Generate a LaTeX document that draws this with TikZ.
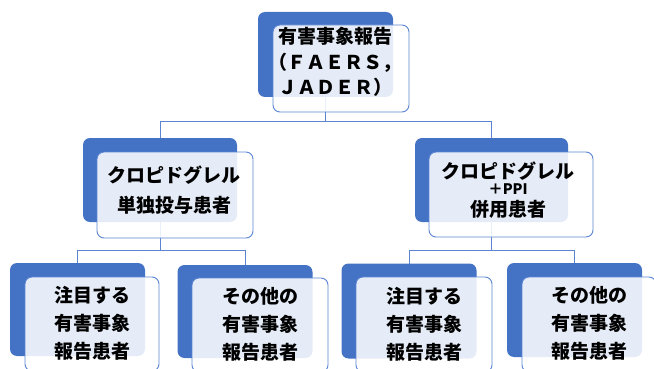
\documentclass[tikz,border=0pt]{standalone}
\usepackage{fontspec}
\newfontfamily\jp{Noto Sans CJK JP}
\usetikzlibrary{backgrounds}
\definecolor{myblue}{HTML}{4472C4}
\definecolor{lineblue}{HTML}{5A84D2}
\begin{document}
\begin{tikzpicture}[x=1pt,y=-1pt,
  back/.style={fill=myblue, rounded corners=7pt, inner sep=0pt, minimum width=#1},
  back/.default=135pt,
  front/.style={draw=lineblue, line width=0.9pt, fill=white, fill opacity=0.87,
    rounded corners=7pt, inner sep=0pt},
  lbl/.style={align=center, inner sep=0pt, text=black,
    font=\jp\bfseries\fontsize{19}{28}\selectfont},
  conn/.style={draw=lineblue, line width=1pt}]
\useasboundingbox (0,0) rectangle (654,369);
% back boxes
\node[back=135pt, minimum height=85pt] (topb) at (325.5,54.5) {};
\node[back=154pt, minimum height=84pt] (l2Lb) at (160,180) {};
\node[back=153pt, minimum height=84pt] (l2Rb) at (491.5,180) {};
\node[back=135pt, minimum height=93pt] (b1) at (77.5,309.5) {};
\node[back=135pt, minimum height=93pt] (b2) at (245,311.5) {};
\node[back=135pt, minimum height=95pt] (b3) at (409,311) {};
\node[back=135pt, minimum height=94pt] (b4) at (574.5,310) {};
% connectors
\coordinate (bus1) at (0,122);
\coordinate (bus2) at (0,250);
\begin{pgfonlayer}{background}
\draw[conn] (topb.center) -- (topb.center |- bus1) -| (l2Lb.center);
\draw[conn] (topb.center |- bus1) -| (l2Rb.center);
\draw[conn] (l2Lb.center) -- (l2Lb.center |- bus2) -| (b1.center);
\draw[conn] (l2Lb.center |- bus2) -| (b2.center);
\draw[conn] (l2Rb.center) -- (l2Rb.center |- bus2) -| (b3.center);
\draw[conn] (l2Rb.center |- bus2) -| (b4.center);
\end{pgfonlayer}
% front boxes
\node[front, minimum width=136pt, minimum height=87pt] (topf) at (341,68.5) {};
\node[front, minimum width=156pt, minimum height=86pt] (l2Lf) at (175,195) {};
\node[front, minimum width=164pt, minimum height=85pt] (l2Rf) at (511,194.5) {};
\node[front, minimum width=134pt, minimum height=94pt] (f1) at (92,324) {};
\node[front, minimum width=136pt, minimum height=94pt] (f2) at (260,325) {};
\node[front, minimum width=136pt, minimum height=95pt] (f3) at (424,324.5) {};
\node[front, minimum width=134pt, minimum height=95pt] (f4) at (589,324.5) {};
% labels
\node[lbl, font=\jp\bfseries\fontsize{19}{25.5}\selectfont] (topt) at (335,62)
  {有害事象報告\\（ＦＡＥＲＳ，\\ＪＡＤＥＲ）};
\node[lbl, font=\jp\bfseries\fontsize{19}{30}\selectfont] (l2Lt) at (174,190)
  {クロピドグレル\\単独投与患者};
\node[lbl, font=\jp\bfseries\fontsize{19}{20}\selectfont] (l2Rt) at (508,190)
  {クロピドグレル\\[-4pt]{\fontsize{14.5}{16}\selectfont ＋PPI}\\[2pt]併用患者};
\node[lbl] (t1) at (92,323) {注目する\\有害事象\\報告患者};
\node[lbl] (t2) at (260,324) {その他の\\有害事象\\報告患者};
\node[lbl] (t3) at (424,324) {注目する\\有害事象\\報告患者};
\node[lbl] (t4) at (589,323) {その他の\\有害事象\\報告患者};
\end{tikzpicture}
\end{document}
